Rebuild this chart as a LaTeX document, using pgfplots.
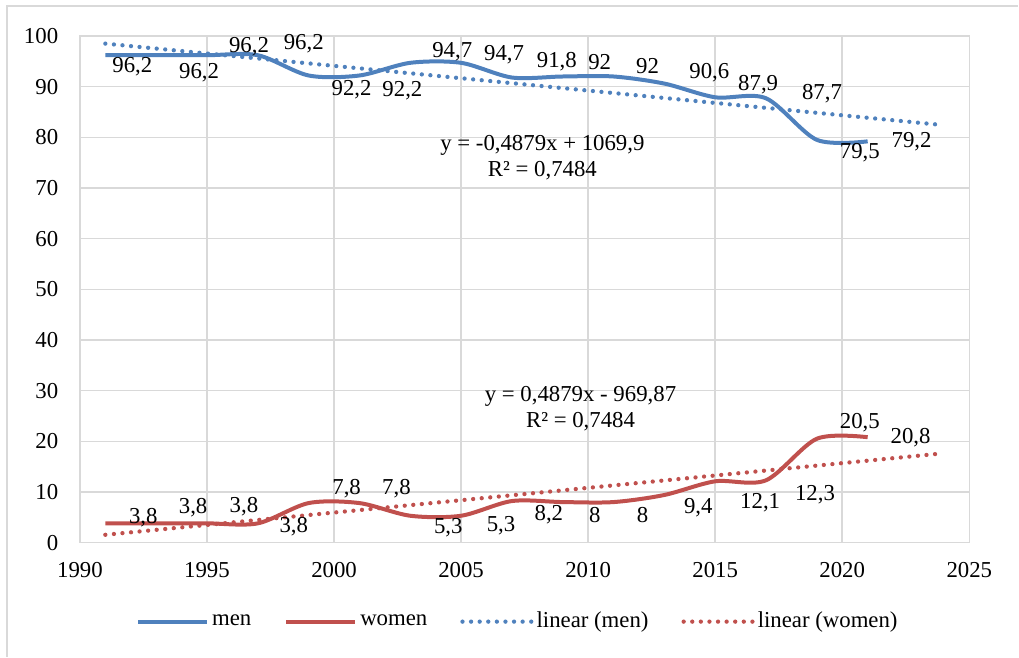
\documentclass[border=0pt]{standalone}
\usepackage{pgfplots}
\pgfplotsset{compat=1.18}
\usepackage{pgfplotstable}
\usepackage{fontspec}
\setmainfont{Liberation Serif}
\definecolor{menblue}{HTML}{4F81BD}
\definecolor{womenred}{HTML}{C0504D}
\definecolor{gridgray}{HTML}{D9D9D9}

\pgfplotstableread{
x y dx dy lab
1991 96.2 27 -11 96,2
1993 96.2 43 -18 96,2
1995 96.2 42 9 96,2
1997 96.2 46 12 96,2
1999 92.2 43 -14 92,2
2001 92.2 43 -15 92,2
2003 94.7 42 11 94,7
2005 94.7 43 8 94,7
2007 91.8 45 16 91,8
2009 92 37 14 92
2011 92 34 10 92
2013 90.6 45 11 90,6
2015 87.9 43 13 87,9
2017 87.7 56 5 87,7
2019 79.5 43 -13 79,5
2021 79.2 44 0 79,2
}\menT

\pgfplotstableread{
x y dx dy lab
1991 3.8 38 6 3,8
1993 3.8 37 16 3,8
1995 3.8 37 17 3,8
1997 3.8 36 -3 3,8
1999 7.8 38 14 7,8
2001 7.8 37 14 7,8
2003 5.3 38 -12 5,3
2005 5.3 40 -10 5,3
2007 8.2 37 -14 8,2
2009 8 32 -13 8
2011 8 29 -13 8
2013 9.4 34 -13 9,4
2015 12.1 45 -21 12,1
2017 12.3 49 -14 12,3
2019 20.5 43 16 20,5
2021 20.8 43 0 20,8
}\womenT

\pgfplotsset{
  lbl/.style={
    nodes near coords,
    point meta=explicit symbolic,
    visualization depends on={\thisrow{dx}\as\dx},
    visualization depends on={\thisrow{dy}\as\dy},
    every node near coord/.append style={text=black, anchor=center, inner sep=0pt, xshift=\dx*1bp, yshift=\dy*1bp},
  },
}

\begin{document}
\fontsize{22.8bp}{26bp}\selectfont
\begin{tikzpicture}
\begin{axis}[
  scale only axis,
  width=890bp, height=507bp,
  xmin=1990, xmax=2025, ymin=0, ymax=100,
  xtick={1990,1995,...,2025},
  ytick={0,10,...,100},
  /pgf/number format/assume math mode=true,
  /pgf/number format/1000 sep={},
  major tick length=0pt,
  grid=major,
  major grid style={draw=gridgray, line width=1.5bp},
  axis line style={draw=gridgray, line width=1.5bp},
  yticklabel style={xshift=-14bp},
  xticklabel style={yshift=-12bp},
  clip=false,
  legend columns=4,
  legend cell align=left,
  legend style={
    draw=none, fill=none,
    at={(0.493,-0.156)}, anchor=center,
    /tikz/every even column/.append style={column sep=30bp},
    nodes={inner xsep=3bp},
  },
  legend image code/.code={\draw[#1] (0bp,0bp) -- (69bp,0bp);},
]
\addplot[menblue, line width=4bp, smooth, lbl] table[x=x, y=y, meta=lab] {\menT};
\addlegendentry{men}
\addplot[womenred, line width=4bp, smooth, lbl] table[x=x, y=y, meta=lab] {\womenT};
\addlegendentry{women}
\addplot[menblue, line width=4.3bp, line cap=round, dash pattern=on 0bp off 8.6bp] coordinates {(1991,98.49) (2023.7,82.54)};
\addlegendentry{linear (men)}
\addplot[womenred, line width=4.3bp, line cap=round, dash pattern=on 0bp off 8.6bp] coordinates {(1991,1.54) (2023.7,17.49)};
\addlegendentry{linear (women)}

\node[align=center] at (axis cs:2008.2,76.05) {y = -0,4879x + 1069,9\\R² = 0,7484};
\node[align=center] at (axis cs:2009.7,26.4) {y = 0,4879x - 969,87\\R² = 0,7484};

\draw[gridgray, line width=1.5bp] ([xshift=-73bp,yshift=-114bp]rel axis cs:0,0) -- ([xshift=-73bp,yshift=30bp]rel axis cs:0,1) -- ([xshift=49bp,yshift=30bp]rel axis cs:1,1);
\path ([xshift=-80bp,yshift=-114bp]rel axis cs:0,0) rectangle ([xshift=49bp,yshift=36bp]rel axis cs:1,1);
\end{axis}
\end{tikzpicture}
\end{document}
